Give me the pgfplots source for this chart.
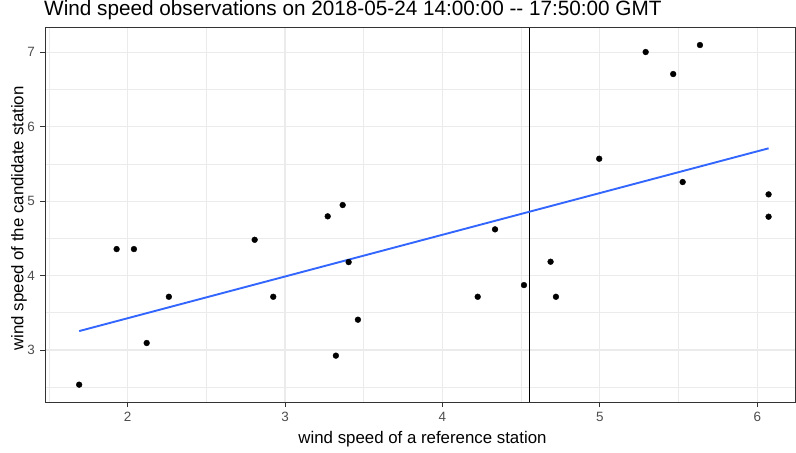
\documentclass[border=0pt]{standalone}
\usepackage{fontspec}
\setmainfont{Liberation Sans}
\usepackage{pgfplots}
\pgfplotsset{compat=1.18}
\definecolor{gridmaj}{HTML}{EBEBEB}
\definecolor{framec}{HTML}{333333}
\definecolor{ticklab}{HTML}{4D4D4D}
\definecolor{smoothc}{HTML}{3366FF}
\begin{document}
\begin{tikzpicture}
\begin{axis}[
  at={(0,0)}, anchor=south west,
  scale only axis, width=750.5bp, height=374.6bp,
  xmin=1.475, xmax=6.243, ymin=2.297, ymax=7.331,
  axis line style={draw=framec, line width=0.8bp},
  xtick={2,3,4,5,6}, ytick={3,4,5,6,7},
  minor xtick={1.5,2.5,3.5,4.5,5.5},
  minor ytick={2.5,3.5,4.5,5.5,6.5},
  grid=both,
  major grid style={draw=gridmaj, line width=1.1bp},
  minor grid style={draw=gridmaj, line width=0.6bp},
  tick align=outside, tick pos=left,
  major tick length=4.5bp, minor tick length=0pt,
  every tick/.style={draw=framec, line width=0.8bp},
  /pgf/number format/assume math mode=true,
  tick label style={font=\fontsize{13.5}{16}\selectfont, text=ticklab},
  xticklabel style={anchor=north, inner sep=0pt, yshift=-5bp},
  yticklabel style={anchor=east, inner sep=0pt, xshift=-5.5bp},
]
\addplot[draw=black, line width=0.8bp, forget plot] coordinates {(4.551,2.297) (4.551,7.331)};
\addplot[only marks, mark=*, mark size=2.9bp, black] table {
x y
1.692 2.534
2.121 3.094
3.323 2.924
3.463 3.407
1.930 4.356
2.040 4.356
2.262 3.715
2.807 4.481
2.925 3.715
3.271 4.796
3.366 4.948
3.404 4.181
4.224 3.715
4.334 4.621
4.518 3.872
4.687 4.186
4.721 3.715
4.996 5.570
5.291 7.004
5.466 6.708
5.526 5.257
5.636 7.098
6.072 5.091
6.072 4.791
};
\addplot[draw=smoothc, line width=1.9bp] coordinates {(1.692,3.254) (6.072,5.710)};
\end{axis}
\node[anchor=base west, inner sep=0pt, font=\fontsize{20.8}{24}\selectfont] at (-1bp,386.6bp) {Wind speed observations on 2018-05-24 14:00:00 -{}- 17:50:00 GMT};
\node[anchor=base, inner sep=0pt, font=\fontsize{16.9}{20}\selectfont] at (377.5bp,-41bp) {wind speed of a reference station};
\node[rotate=90, anchor=base, inner sep=0pt, font=\fontsize{16.9}{20}\selectfont] at (-21.7bp,184bp) {wind speed of the candidate station};
\pgfresetboundingbox
\path[use as bounding box] (-45bp,-50.7bp) rectangle (751bp,402.3bp);
\end{tikzpicture}
\end{document}
